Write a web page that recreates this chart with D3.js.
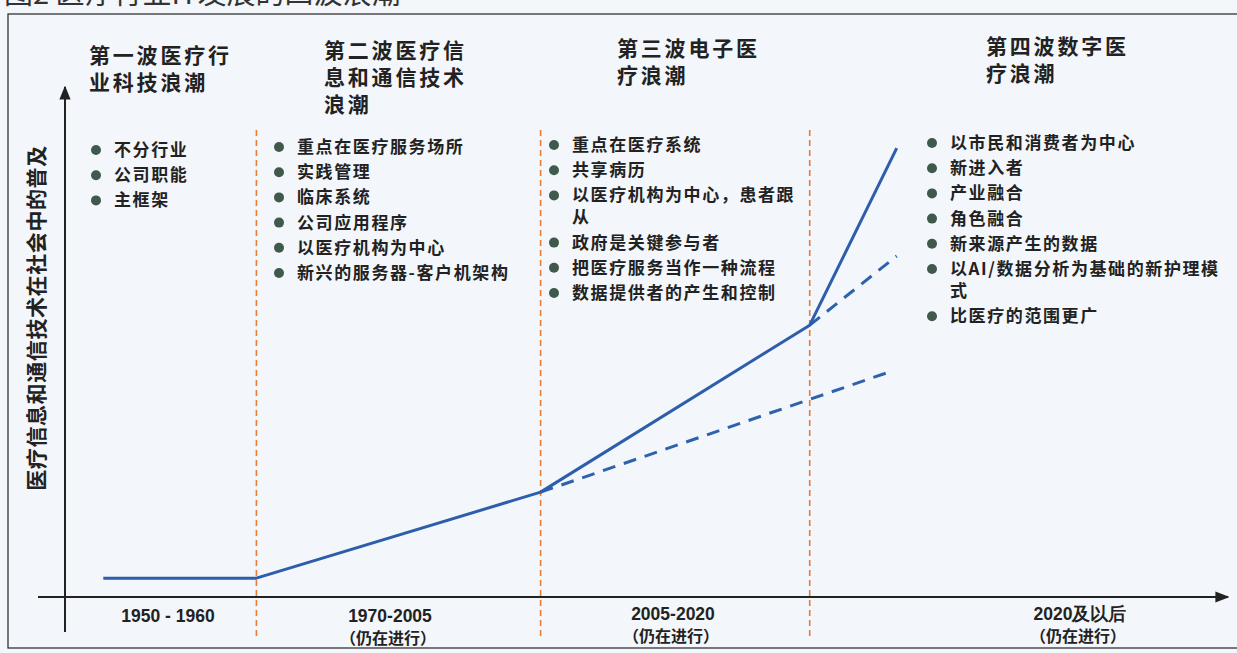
<!DOCTYPE html>
<html>
<head>
<meta charset="utf-8">
<style>
  body { margin: 0; background: #f3f6fa; }
  svg { display: block; }
  text { font-family: "Noto Sans CJK SC", "Noto Sans", sans-serif; fill: #222; }
  .wave { font-size: 21px; font-weight: 700; letter-spacing: 2.8px; }
  .item { font-size: 17px; font-weight: 700; letter-spacing: 1.6px; }
  .period { font-size: 16px; font-weight: 700; }
  .period-num { font-family: "Liberation Sans", Arial, sans-serif; font-size: 17.5px; }
</style>
</head>
<body>
<svg width="1237" height="653"></svg>
<script src="https://d3js.org/d3.v7.min.js"></script>
<script>

// wave headings and their bullet items
var waveTitles = [
  ["第一波医疗行", "业科技浪潮"],
  ["第二波医疗信", "息和通信技术", "浪潮"],
  ["第三波电子医", "疗浪潮"],
  ["第四波数字医", "疗浪潮"]
];
var waveItems = [
  [["不分行业"], ["公司职能"], ["主框架"]],
  [["重点在医疗服务场所"], ["实践管理"], ["临床系统"], ["公司应用程序"], ["以医疗机构为中心"], ["新兴的服务器-客户机架构"]],
  [["重点在医疗系统"], ["共享病历"], ["以医疗机构为中心，患者跟", "从"], ["政府是关键参与者"], ["把医疗服务当作一种流程"], ["数据提供者的产生和控制"]],
  [["以市民和消费者为中心"], ["新进入者"], ["产业融合"], ["角色融合"], ["新来源产生的数据"], ["以AI/数据分析为基础的新护理模", "式"], ["比医疗的范围更广"]]
];
var periods = [
  ["1950 - 1960"],
  ["1970-2005", "（仍在进行）"],
  ["2005-2020", "（仍在进行）"],
  ["2020及以后", "（仍在进行）"]
];

// curve (time on 0-100, adoption on 0-100)
var solidX = [3.3, 16.5, 41, 64.2, 71.7];
var solidY = [3.7, 3.7, 20.6, 53.4, 88.2];
var dashLowX = [41, 71.3];
var dashLowY = [20.6, 44.4];
var dashHighX = [64.2, 71.7];
var dashHighY = [53.4, 67];
var dividers = [16.5, 41, 64.2];

var yLabel = "医疗信息和通信技术在社会中的普及";
var figTitle = "图2  医疗行业IT发展的四波浪潮";

var svg = d3.select("svg");
var x = d3.scaleLinear().domain([0, 100]).range([65, 1225]);
var y = d3.scaleLinear().domain([0, 100]).range([597, 88]);

var defs = svg.append("defs");
defs.append("marker")
    .attr("id", "arrow")
    .attr("viewBox", "0 0 10 10")
    .attr("refX", 9).attr("refY", 5)
    .attr("markerWidth", 7).attr("markerHeight", 7)
    .attr("orient", "auto")
  .append("path")
    .attr("d", "M0,1 L10,5 L0,9 Z")
    .attr("fill", "#222");

// cut-off figure title and frame
svg.append("text")
    .attr("x", 4).attr("y", 4)
    .style("font-size", "29px")
    .style("fill", "#333")
    .text(figTitle);

svg.append("rect")
    .attr("x", 8).attr("y", 14)
    .attr("width", 1240).attr("height", 634)
    .attr("fill", "none")
    .attr("stroke", "#333")
    .attr("stroke-width", 1.3);

// axes
svg.append("line")
    .attr("x1", 38).attr("x2", x(100) + 3)
    .attr("y1", y(0)).attr("y2", y(0))
    .attr("stroke", "#222").attr("stroke-width", 2)
    .attr("marker-end", "url(#arrow)");
svg.append("line")
    .attr("x1", x(0)).attr("x2", x(0))
    .attr("y1", 632).attr("y2", y(100) - 1)
    .attr("stroke", "#222").attr("stroke-width", 2)
    .attr("marker-end", "url(#arrow)");

svg.append("text")
    .attr("transform", "translate(44," + 318 + ") rotate(-90)")
    .attr("text-anchor", "middle")
    .style("font-size", "21px")
    .style("font-weight", 700)
    .style("letter-spacing", "0.6px")
    .text(yLabel);

// orange dividers
svg.selectAll(".divider")
    .data(dividers)
    .enter().append("line")
    .attr("class", "divider")
    .attr("x1", function(d) { return x(d); })
    .attr("x2", function(d) { return x(d); })
    .attr("y1", 130).attr("y2", 640)
    .attr("stroke", "#ea7d33")
    .attr("stroke-width", 1.6)
    .attr("stroke-dasharray", "6,4");

// curves
var line = d3.line()
    .x(function(d) { return x(d[0]); })
    .y(function(d) { return y(d[1]); });

function pts(xs, ys) { return xs.map(function(v, i) { return [v, ys[i]]; }); }

svg.append("path")
    .datum(pts(dashLowX, dashLowY))
    .attr("d", line)
    .attr("fill", "none").attr("stroke", "#2d62ad")
    .attr("stroke-width", 3).attr("stroke-dasharray", "13,9");
svg.append("path")
    .datum(pts(dashHighX, dashHighY))
    .attr("d", line)
    .attr("fill", "none").attr("stroke", "#2d62ad")
    .attr("stroke-width", 3).attr("stroke-dasharray", "13,9");
svg.append("path")
    .datum(pts(solidX, solidY))
    .attr("d", line)
    .attr("fill", "none").attr("stroke", "#2d5eab")
    .attr("stroke-width", 3).attr("stroke-linejoin", "round");

// wave headings
var titleX = [89, 324, 617, 986];
var titleY = [55, 50, 48, 46];
waveTitles.forEach(function(lines, i) {
  var t = svg.append("text").attr("class", "wave")
      .attr("x", titleX[i]).attr("y", titleY[i] + 8);
  lines.forEach(function(s, j) {
    t.append("tspan").attr("x", titleX[i]).attr("dy", j ? 27 : 0).text(s);
  });
});

// bullet lists
var listX = [96, 279, 554, 932];
var listY = [150, 147, 145, 143];
var rowGap = 25.2, wrapGap = 22;
waveItems.forEach(function(items, i) {
  var yy = listY[i];
  items.forEach(function(item) {
    svg.append("circle")
        .attr("cx", listX[i]).attr("cy", yy)
        .attr("r", 5)
        .attr("fill", "#3f5a4c");
    var t = svg.append("text").attr("class", "item")
        .attr("x", listX[i] + 18).attr("y", yy + 6);
    item.forEach(function(s, j) {
      t.append("tspan").attr("x", listX[i] + 18).attr("dy", j ? wrapGap : 0).text(s);
    });
    yy += rowGap + (item.length - 1) * wrapGap;
  });
});

// period labels
var periodX = [168, 390, 673, 1080];
periods.forEach(function(lines, i) {
  lines.forEach(function(s, j) {
    svg.append("text")
        .attr("class", "period" + (j === 0 ? " period-num" : ""))
        .attr("x", periodX[i] + (j ? -2 : 0))
        .attr("y", 622 + j * 22 - (i > 1 ? 2 : 0))
        .attr("text-anchor", "middle")
        .text(s);
  });
});

</script>
</body>
</html>
